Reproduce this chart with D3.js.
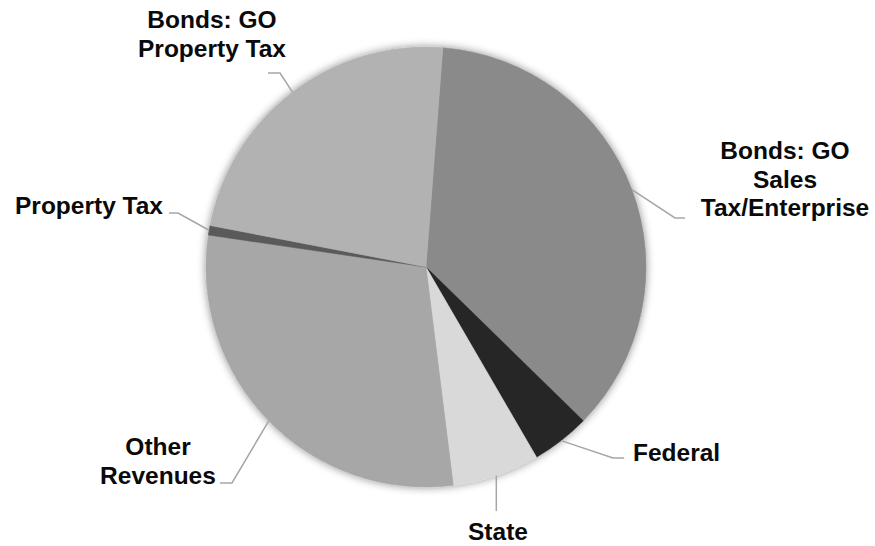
<!DOCTYPE html>
<html>
<head>
<meta charset="utf-8">
<script src="https://cdn.jsdelivr.net/npm/d3@7"></script>
<style>
  html, body { margin: 0; padding: 0; background: #fff; }
  svg { display: block; }
</style>
</head>
<body>
<svg id="chart" width="875" height="546"></svg>
<script>
// ---- data ----
const categories = ["Bonds: GO Sales Tax/Enterprise", "Federal", "State", "Other Revenues", "Property Tax", "Bonds: GO Property Tax"];
const values = [36.1, 4.3, 6.4, 29.3, 0.7, 23.2];
const labelLines = [["Bonds: GO", "Sales", "Tax/Enterprise"], ["Federal"], ["State"], ["Other", "Revenues"], ["Property Tax"], ["Bonds: GO", "Property Tax"]];
const colors = ["#8a8a8a", "#262626", "#d9d9d9", "#a7a7a7", "#5a5a5a", "#b2b2b2"];

// ---- layout ----
const W = 875, H = 546;
const cx = 426, cy = 267, R = 220;
const startDeg = 4.4;
// label layout: elbow point, line end x, text anchor position, anchor
const labelLayout = [
  { ex: 675, ey: 218, lx: 685, tx: 785, ty: 159, anchor: "middle" },
  { ex: 613, ey: 458, lx: 624, tx: 633, ty: 461, anchor: "start" },
  { ex: null, ey: 511, lx: null, tx: 498, ty: 540, anchor: "middle" },
  { ex: 232, ey: 483, lx: 220, tx: 158, ty: 455, anchor: "middle" },
  { ex: 178, ey: 213, lx: 169, tx: 163, ty: 214, anchor: "end" },
  { ex: 280, ey: 73, lx: 268, tx: 212, ty: 28, anchor: "middle" }
];
const lineH = 28.5;

const svg = d3.select("#chart");
const defs = svg.append("defs");
const f = defs.append("filter").attr("id", "glow")
  .attr("x", "-20%").attr("y", "-20%").attr("width", "140%").attr("height", "140%");
f.append("feDropShadow").attr("dx", 0).attr("dy", 0).attr("stdDeviation", 4)
  .attr("flood-color", "#000").attr("flood-opacity", 0.45);

const pie = d3.pie().sort(null).value(d => d)
  .startAngle(startDeg * Math.PI / 180)
  .endAngle((startDeg + 360) * Math.PI / 180);
const arcs = pie(values);
const arc = d3.arc().innerRadius(0).outerRadius(R);

const g = svg.append("g").attr("transform", `translate(${cx},${cy})`);
const sg = g.append("g").attr("filter", "url(#glow)");
sg.selectAll("path").data(arcs).enter().append("path")
  .attr("d", arc)
  .attr("fill", (d, i) => colors[i])
  .attr("stroke", (d, i) => colors[i])
  .attr("stroke-width", 0.5);

// leader lines
arcs.forEach((d, i) => {
  const a = (d.startAngle + d.endAngle) / 2;
  const sx = cx + R * Math.sin(a);
  const sy = cy - R * Math.cos(a);
  const L = labelLayout[i];
  let pts;
  if (L.ex === null) pts = [[sx, sy], [sx, L.ey]];
  else pts = [[sx, sy], [L.ex, L.ey], [L.lx, L.ey]];
  svg.append("path")
    .attr("d", d3.line()(pts))
    .attr("fill", "none")
    .attr("stroke", "#a6a6a6")
    .attr("stroke-width", 1.5);
});

// labels
labelLines.forEach((lines, i) => {
  const L = labelLayout[i];
  const t = svg.append("text")
    .attr("x", L.tx).attr("y", L.ty)
    .attr("text-anchor", L.anchor)
    .attr("font-family", "'Liberation Sans', Arial, sans-serif")
    .attr("font-weight", "bold")
    .attr("font-size", "24.5px")
    .attr("fill", "#0a0a0a");
  lines.forEach((ln, j) => {
    t.append("tspan").attr("x", L.tx).attr("y", L.ty + j * lineH).text(ln);
  });
});
</script>
</body>
</html>
